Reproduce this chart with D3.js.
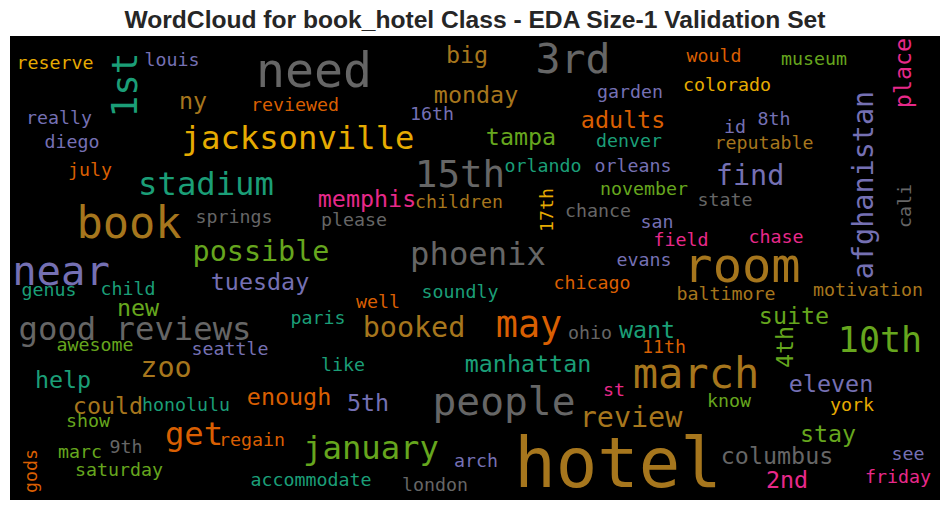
<!DOCTYPE html>
<html>
<head>
<meta charset="utf-8">
<script src="https://cdn.jsdelivr.net/npm/d3@7/dist/d3.min.js"></script>
<style>
  html, body { margin: 0; padding: 0; background: #ffffff; }
  svg { display: block; }
</style>
</head>
<body>
<div id="chart"></div>
<script>
// ---- data ----
const chartTitle = "WordCloud for book_hotel Class - EDA Size-1 Validation Set";

const words = ["reserve","1st","louis","need","big","3rd","would","museum","place","ny",
  "reviewed","16th","monday","really","diego","jacksonville","garden","colorado","adults","id",
  "8th","reputable","afghanistan","tampa","denver","orlando","orleans","find","15th","stadium",
  "july","memphis","children","17th","november","chance","state","cali","book","springs",
  "please","san","field","chase","possible","phoenix","evans","room","near","tuesday",
  "genus","child","chicago","soundly","baltimore","motivation","well","new","paris","suite",
  "good reviews","booked","may","ohio","want","10th","4th","11th","awesome","seattle",
  "manhattan","like","zoo","march","help","eleven","st","enough","know","people",
  "5th","honolulu","could","york","review","show","stay","get","regain","9th",
  "marc","january","see","columbus","arch","gods","saturday","friday","accommodate","hotel",
  "2nd","london"];

// relative word frequency (weight)
const counts = [1,4.5,1,6.9,2,5.6,1,1,2,2,
  1,1,2,1,1,3.75,1,1,2,1,
  1,1,3,2,1,1,1,3,4.8,3.75,
  1,2,1,1,1,1,1,1,6,1,
  1,1,1,1,3,3.75,1,7,5.4,2,
  1,1,1,1,1,1,1,2,1,2,
  3.75,3,4.65,1,2,4.3,2,1,1,1,
  2,1,3,5.7,2,2,1,2,1,5.2,
  2,1,2,1,3,1,2,3.75,1,1,
  1,3.75,1,2,1,1,1,1,1,11,
  2,1];

// Dark2 colour index of each word (0 teal,1 orange,2 purple,3 pink,4 green,5 yellow,6 brown,7 gray)
const colorIdx = [5,0,2,7,6,7,1,4,3,6,
  1,2,6,2,2,5,2,5,1,2,
  2,6,2,4,0,0,2,2,7,0,
  1,3,6,5,4,7,7,7,6,7,
  7,2,3,3,4,7,2,6,2,2,
  0,0,1,0,6,6,1,4,0,4,
  7,6,1,7,0,4,4,1,4,2,
  0,0,6,6,0,2,3,1,4,7,
  2,0,6,5,6,4,4,1,1,7,
  4,4,2,7,2,1,4,3,0,6,
  3,7];

// vertical words (1 = rotated)
const rotated = [0,1,0,0,0,0,0,0,1,0,
  0,0,0,0,0,0,0,0,0,0,
  0,0,1,0,0,0,0,0,0,0,
  0,0,0,1,0,0,0,1,0,0,
  0,0,0,0,0,0,0,0,0,0,
  0,0,0,0,0,0,0,0,0,0,
  0,0,0,0,0,0,1,0,0,0,
  0,0,0,0,0,0,0,0,0,0,
  0,0,0,0,0,0,0,0,0,0,
  0,0,0,0,0,1,0,0,0,0,
  0,0];

// word layout in cloud-canvas units (930 x 464 canvas)
const layoutX = [45,127,162,304,457,563,704,804,901,183,
  285,422,466,49,62,288,620,717,613,725,
  764,754,863,511,619,533,623,740,450,196,
  80,357,449,543,634,588,715,901,119,224,
  344,647,671,766,251,468,634,732,51,250,
  39,118,582,450,716,858,368,128,308,784,
  125,404,519,580,637,870,783,654,85,220,
  518,333,156,686,53,821,604,279,719,494,
  358,176,98,842,621,78,818,184,242,116,
  70,361,898,767,466,26.5,109,888,301,608,
  777,425];
const layoutY = [33,49,30,51,27,37,26,29,37,73,
  75,84,67,88,112,113,62,55,92,97,
  89,113,149,109,111,136,136,149,151,159,
  140,171,172,174,159,181,170,170,202,187,
  190,192,210,207,225,229,230,246,249,254,
  260,259,253,262,264,260,272,280,288,288,
  304,301,301,303,302,316,311,317,315,319,
  336,335,341,352,352,356,360,369,371,379,
  375,375,378,375,391,391,406,409,410,417,
  422,423,424,428,431,435,440,447,450,451,
  452,455];

// ---- drawing ----
const W = 950, H = 511;
const box = {x0: 10, x1: 940, y0: 36, y1: 500};

const svg = d3.select("#chart").append("svg")
  .attr("width", W).attr("height", H)
  .style("background", "#ffffff");

const x = d3.scaleLinear().domain([0, 930]).range([box.x0, box.x1]);
const y = d3.scaleLinear().domain([0, 464]).range([box.y0, box.y1]);
const size = d3.scaleLinear().domain([1, 11]).range([18.3, 69]);
const color = d3.scaleOrdinal().domain(d3.range(8)).range(d3.schemeDark2);

svg.append("text")
  .attr("x", W / 2).attr("y", 28)
  .attr("text-anchor", "middle")
  .style("font-family", "'Liberation Sans', Arial, sans-serif")
  .style("font-weight", "bold")
  .style("font-size", "24.6px")
  .style("fill", "#262626")
  .text(chartTitle);

svg.append("rect")
  .attr("x", box.x0).attr("y", box.y0)
  .attr("width", box.x1 - box.x0).attr("height", box.y1 - box.y0)
  .attr("fill", "#000000");

const data = words.map((w, i) => ({
  text: w, count: counts[i], c: colorIdx[i], rot: rotated[i],
  lx: layoutX[i], ly: layoutY[i]
}));

svg.append("g").selectAll("text")
  .data(data)
  .join("text")
  .attr("transform", d => `translate(${x(d.lx)},${y(d.ly)})` + (d.rot ? " rotate(-90)" : ""))
  .attr("text-anchor", "middle")
  .style("font-family", "'DejaVu Sans Mono', monospace")
  .style("font-size", d => size(d.count) + "px")
  .style("fill", d => color(d.c))
  .text(d => d.text);
</script>
</body>
</html>
